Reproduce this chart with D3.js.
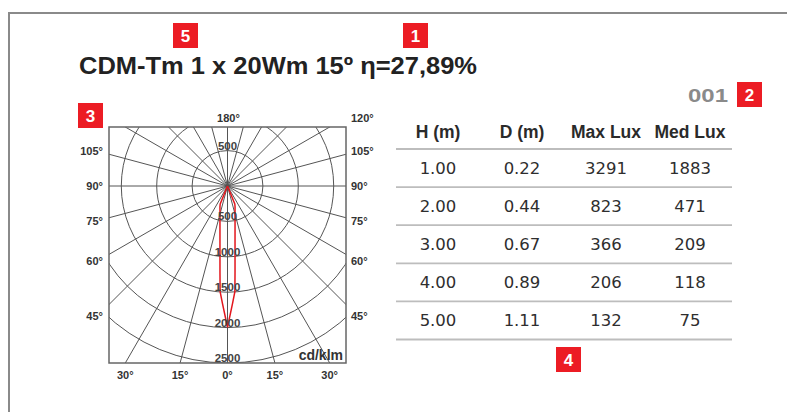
<!DOCTYPE html>
<html>
<head>
<meta charset="utf-8">
<script src="https://cdn.jsdelivr.net/npm/d3@7"></script>
<style>
  body { margin: 0; background: #fff; }
  svg { display: block; }
</style>
</head>
<body>
<div id="chart"></div>
<script>
// photometric data (cd/klm), C0 plane, symmetric
const gammaAngles = [0, 2.5, 4, 5, 7.5, 10, 12.5, 15, 17.5, 20, 22, 25];
const intensity = [1995, 1655, 1495, 1220, 815, 613, 492, 411, 354, 312, 275, 0];
const ringValues = [500, 1000, 1500, 2000, 2500];
const leftAngleLabels = [105, 90, 75, 60, 45];
const bottomAngleLabels = [-30, -15, 0, 15, 30];

// table
const columns = ["H (m)", "D (m)", "Max Lux", "Med Lux"];
const heights = [1, 2, 3, 4, 5];
const diameters = [0.22, 0.44, 0.67, 0.89, 1.11];
const maxLux = [3291, 823, 366, 206, 132];
const medLux = [1883, 471, 209, 118, 75];

const title = "CDM-Tm 1 x 20Wm 15º η=27,89%";
const code = "001";

const width = 787, height = 412;
const red = "#ec1c24";

const svg = d3.select("#chart").append("svg")
  .attr("width", width).attr("height", height)
  .attr("viewBox", [0, 0, width, height]);

svg.append("rect").attr("width", width).attr("height", height).attr("fill", "#fff");

// outer frame
svg.append("path")
  .attr("d", `M${width + 5},13 H9 V${height + 5}`)
  .attr("fill", "none").attr("stroke", "#8a8a8a").attr("stroke-width", 2);

// title
svg.append("text")
  .attr("x", 79).attr("y", 73.5)
  .attr("textLength", 398).attr("lengthAdjust", "spacingAndGlyphs")
  .attr("font-family", "Liberation Sans, Arial, sans-serif")
  .attr("font-weight", "bold").attr("font-size", 23.5)
  .attr("fill", "#222").text(title);

svg.append("text")
  .attr("x", 688).attr("y", 102)
  .attr("textLength", 40).attr("lengthAdjust", "spacingAndGlyphs")
  .attr("font-family", "Liberation Sans, Arial, sans-serif")
  .attr("font-weight", "bold").attr("font-size", 18)
  .attr("fill", "#8a8a8a").text(code);

// red number badges
const badges = [
  { n: "5", x: 173, y: 23 },
  { n: "1", x: 403, y: 23 },
  { n: "2", x: 737, y: 82 },
  { n: "3", x: 78, y: 103 },
  { n: "4", x: 556, y: 347 },
];
const badge = svg.selectAll(".badge").data(badges).join("g")
  .attr("class", "badge")
  .attr("transform", d => `translate(${d.x},${d.y})`);
badge.append("rect").attr("width", 25).attr("height", 25).attr("fill", red);
badge.append("text")
  .attr("x", 12.5).attr("y", 19).attr("text-anchor", "middle")
  .attr("font-family", "Liberation Sans, Arial, sans-serif")
  .attr("font-weight", "bold").attr("font-size", 17)
  .attr("fill", "#fff").text(d => d.n);

// ---- polar diagram ----
const box = { x0: 109, x1: 346, y0: 127, y1: 363 };
const cx = 227.5, cy = 186;
const r = d3.scaleLinear().domain([0, 2500]).range([0, 177]);
const rad = g => g * Math.PI / 180;

svg.append("clipPath").attr("id", "polar-clip")
  .append("rect")
  .attr("x", box.x0).attr("y", box.y0)
  .attr("width", box.x1 - box.x0).attr("height", box.y1 - box.y0);

const polar = svg.append("g").attr("clip-path", "url(#polar-clip)");
const gridColor = "#555";

// radial lines every 15 degrees
polar.selectAll(".spoke").data(d3.range(0, 360, 15)).join("line")
  .attr("class", "spoke")
  .attr("x1", cx).attr("y1", cy)
  .attr("x2", d => cx + r(4000) * Math.sin(rad(d)))
  .attr("y2", d => cy + r(4000) * Math.cos(rad(d)))
  .attr("stroke", gridColor).attr("stroke-width", 1);

polar.selectAll(".ring").data(ringValues).join("circle")
  .attr("class", "ring")
  .attr("cx", cx).attr("cy", cy).attr("r", d => r(d))
  .attr("fill", "none").attr("stroke", gridColor).attr("stroke-width", 1);

// intensity curve
const curvePts = [];
for (let i = gammaAngles.length - 1; i > 0; i--) curvePts.push([-gammaAngles[i], intensity[i]]);
for (let i = 0; i < gammaAngles.length; i++) curvePts.push([gammaAngles[i], intensity[i]]);

const radial = d3.lineRadial()
  .angle(d => Math.PI - rad(d[0]))
  .radius(d => r(d[1]));

polar.append("path")
  .attr("transform", `translate(${cx},${cy})`)
  .attr("d", radial(curvePts))
  .attr("fill", "none").attr("stroke", "#e3161d").attr("stroke-width", 1.5);

// box border
svg.append("rect")
  .attr("x", box.x0).attr("y", box.y0)
  .attr("width", box.x1 - box.x0).attr("height", box.y1 - box.y0)
  .attr("fill", "none").attr("stroke", "#666").attr("stroke-width", 1.5);

const labelFont = sel => sel
  .attr("font-family", "Liberation Sans, Arial, sans-serif")
  .attr("font-weight", "bold").attr("font-size", 11).attr("fill", "#333");

// ring labels
svg.selectAll(".ring-label").data(ringValues).join("text")
  .attr("class", "ring-label")
  .attr("x", cx).attr("y", d => cy + r(d) - 1)
  .attr("text-anchor", "middle")
  .call(labelFont).attr("font-size", 11.5).attr("fill", "#444")
  .text(d => d);
svg.append("text")
  .attr("x", cx).attr("y", cy - r(500) - 0.5)
  .attr("text-anchor", "middle")
  .call(labelFont).attr("font-size", 11.5).attr("fill", "#444")
  .text(ringValues[0]);

// side angle labels
const sideY = g => cy + 130 / Math.tan(rad(g)) + 4;
svg.selectAll(".left-label").data(leftAngleLabels).join("text")
  .attr("x", 103).attr("y", sideY).attr("text-anchor", "end")
  .call(labelFont).text(d => `${d}°`);
svg.selectAll(".right-label").data(leftAngleLabels).join("text")
  .attr("x", 351).attr("y", sideY)
  .call(labelFont).text(d => `${d}°`);
svg.append("text").attr("x", cx + 1).attr("y", 122).attr("text-anchor", "middle")
  .call(labelFont).text("180°");
svg.append("text").attr("x", 351).attr("y", 122)
  .call(labelFont).text("120°");

// bottom angle labels
svg.selectAll(".bottom-label").data(bottomAngleLabels).join("text")
  .attr("x", d => cx + (box.y1 - cy) * Math.tan(rad(d)))
  .attr("y", 379).attr("text-anchor", "middle")
  .call(labelFont).text(d => `${Math.abs(d)}°`);

svg.append("text")
  .attr("x", 343).attr("y", 360).attr("text-anchor", "end")
  .call(labelFont).attr("font-size", 14).attr("fill", "#333")
  .text("cd/klm");

// ---- table ----
const colX = d3.scaleBand().domain(columns).range([396, 732]);
const rowY = d3.scaleBand().domain(heights).range([149, 149 + 5 * 38.1]);

svg.selectAll(".th").data(columns).join("text")
  .attr("class", "th")
  .attr("x", d => colX(d) + colX.bandwidth() / 2).attr("y", 138)
  .attr("text-anchor", "middle")
  .attr("font-family", "Liberation Sans, Arial, sans-serif")
  .attr("font-weight", "bold").attr("font-size", 17.5).attr("fill", "#2a2a2a")
  .text(d => d);

svg.selectAll(".rule").data([149].concat(heights.map(h => rowY(h) + rowY.bandwidth()))).join("line")
  .attr("class", "rule")
  .attr("x1", 396).attr("x2", 732)
  .attr("y1", d => d).attr("y2", d => d)
  .attr("stroke", "#bdbdbd").attr("stroke-width", 1.8);

const rows = heights.map((h, i) => [h.toFixed(2), diameters[i].toFixed(2), maxLux[i], medLux[i]]);
const row = svg.selectAll(".row").data(rows).join("g")
  .attr("class", "row")
  .attr("transform", (d, i) => `translate(0,${rowY(heights[i]) + rowY.bandwidth() / 2 + 6})`);
row.selectAll("text").data(d => d).join("text")
  .attr("x", (d, j) => colX(columns[j]) + colX.bandwidth() / 2)
  .attr("text-anchor", "middle")
  .attr("font-family", "DejaVu Sans, sans-serif")
  .attr("font-size", 16.5).attr("fill", "#2e2e2e")
  .text(d => d);
</script>
</body>
</html>
